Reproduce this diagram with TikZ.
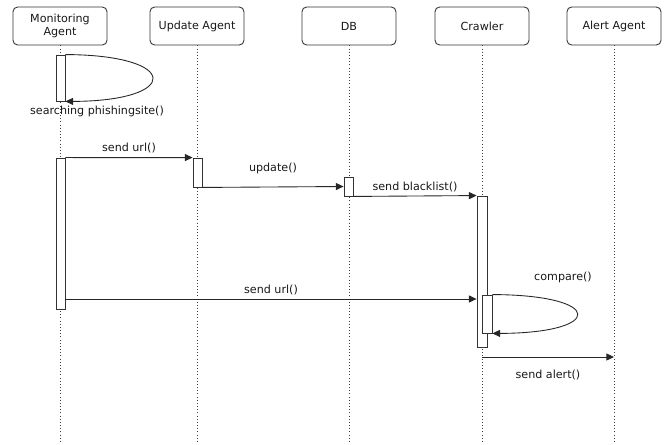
\documentclass[tikz,border=0pt]{standalone}
\usepackage{fontspec}
\setmainfont{DejaVu Sans}
\usetikzlibrary{arrows.meta}

\begin{document}
\begin{tikzpicture}[x=0.03cm, y=-0.03cm,
  font=\fontsize{9.5}{10.8}\selectfont, text=black!90,
  headnode/.style={rectangle, rounded corners=4pt, draw=black!80, fill=white, line width=0.75pt, minimum width=2.82cm, minimum height=1.14cm, align=center, inner sep=1pt},
  actbox/.style={rectangle, draw=black!80, fill=white, line width=0.75pt, minimum width=0.27cm, inner sep=0pt},
  lifeline/.style={dotted, draw=black!75, line width=0.7pt},
  msg/.style={-{Triangle[length=6.5pt,width=6pt]}, draw=black!85, line width=0.75pt},
]
\useasboundingbox (0,0) rectangle (670,444);

%Heads
\node[headnode] (mon) at (60,26)  {Monitoring\\Agent};
\node[headnode] (upd) at (197,26) {Update Agent};
\node[headnode] (db)  at (349,26) {DB};
\node[headnode] (crw) at (482,26) {Crawler};
\node[headnode] (alr) at (614,26) {Alert Agent};

%Lifelines
\foreach \n in {mon,upd,db,crw,alr}
  \draw[lifeline] (\n.south) -- (\n |- 0,444);

%Activations
\node[actbox, minimum height=1.38cm] (mon1) at (60.5,78)    {};
\node[actbox, minimum height=4.53cm] (mon2) at (60.5,233.5) {};
\node[actbox, minimum height=0.87cm] (upd1) at (197.5,172.5) {};
\node[actbox, minimum height=0.57cm] (db1)  at (348.5,186.5) {};
\node[actbox, minimum height=4.53cm, minimum width=0.3cm] (crw1) at (482,271.5) {};
\node[actbox, minimum height=1.14cm, minimum width=0.3cm] (crw2) at (487,314) {};

%Messages
\draw[msg] (mon1.north east) .. controls (181,55) and (181,101) .. (mon1.south east);
\node (lsearch) at (97,111) {searching phishingsite()};

\draw[msg] (mon2.north east) -- node[above] (lurl1) {send url()} (upd1.north west);
\draw[msg] (upd1.south east) -- node[above=0.27cm] (lupdate) {update()} (db1.west);
\draw[msg] (db1.south east) -- node[above] (lblack) {send blacklist()} (crw1.north west);
\draw[msg] (mon2.east |- 0,299) -- node[above] (lurl2) {send url()} (crw1.west |- 0,299);

\draw[msg] (crw2.north east) .. controls (605,295) and (605,333) .. (crw2.south east);
\node (lcompare) at (563,277) {compare()};

\draw[msg] (crw |- 0,357) -- node[below=0.27cm] (lalert) {send alert()} (alr |- 0,357);
\end{tikzpicture}
\end{document}
